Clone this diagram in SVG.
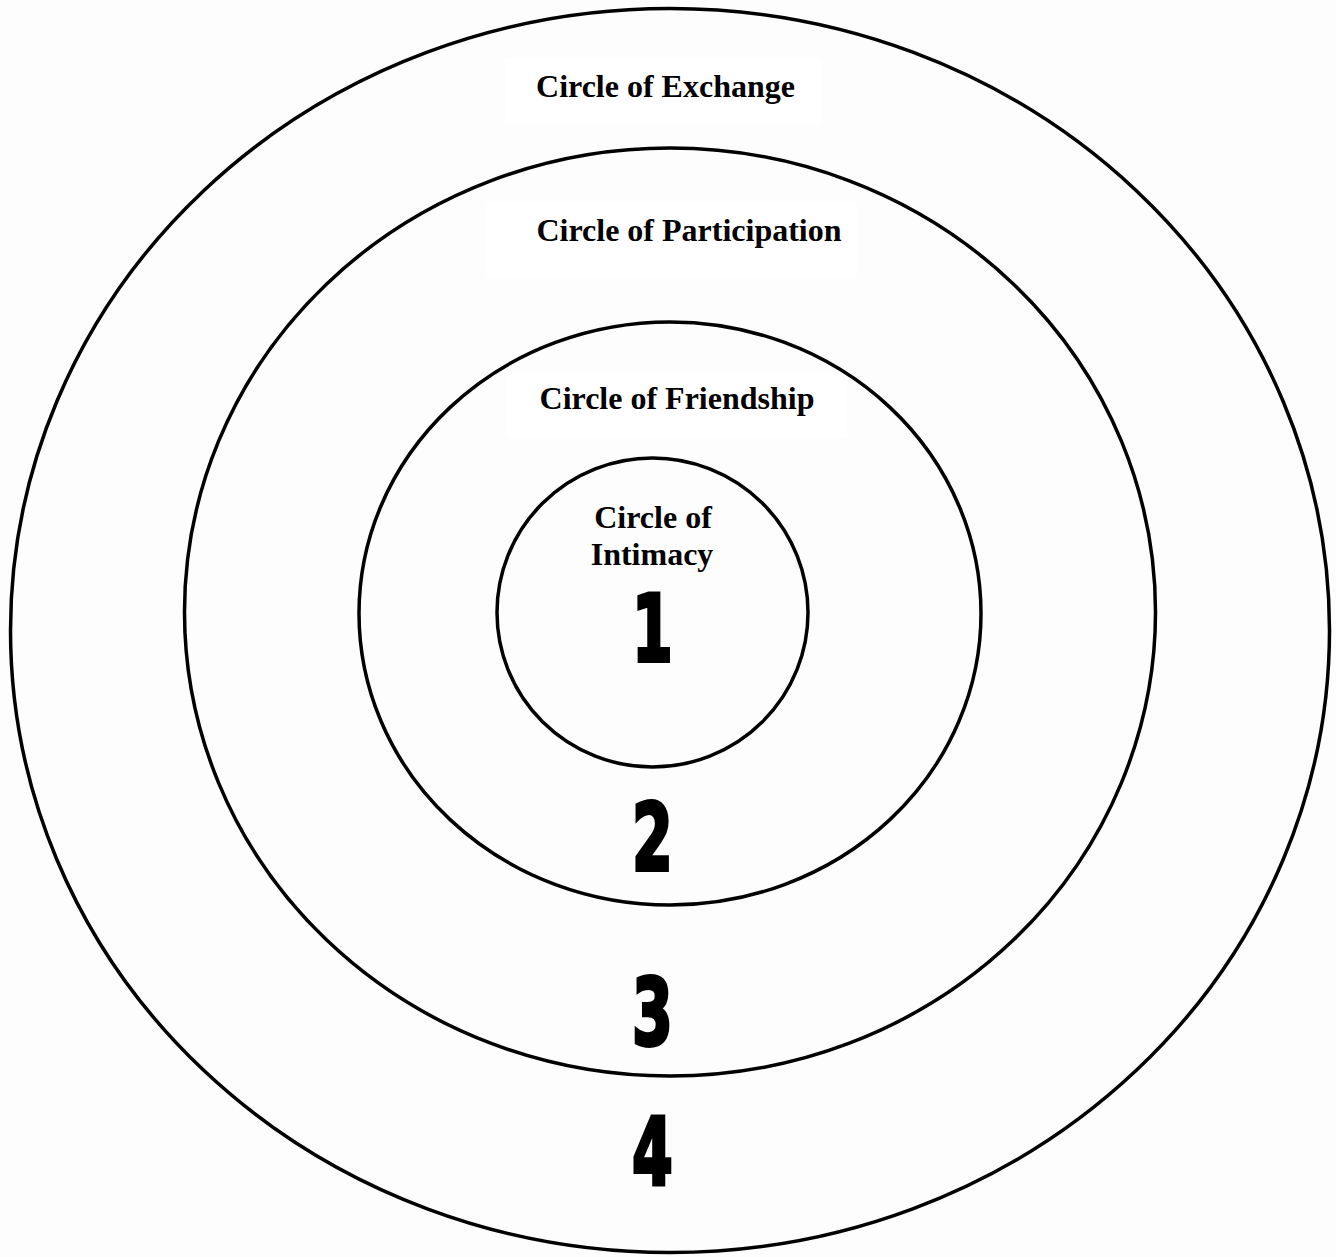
<svg xmlns="http://www.w3.org/2000/svg" width="1336" height="1257" viewBox="0 0 1336 1257">
  <style>
    .ring { fill: none; stroke: #000; stroke-width: 3.5; }
    .label { font-family: "Liberation Serif", "Times New Roman", serif; font-weight: bold; font-size: 32px; fill: #000; text-anchor: middle; }
    .num { font-family: "DejaVu Sans Condensed", "DejaVu Sans", sans-serif; font-weight: bold; font-size: 92px; fill: #000; stroke: #000; stroke-width: 4; stroke-linejoin: miter; text-anchor: middle; }
    .pad { fill: #ffffff; }
  </style>
  <rect width="1336" height="1257" fill="#fdfdfd"/>

  <!-- label backdrops -->
  <rect class="pad" x="505" y="58" width="316" height="66"/>
  <rect class="pad" x="485" y="202" width="372" height="76"/>
  <rect class="pad" x="507" y="372" width="340" height="66"/>

  <g id="circle-exchange">
    <ellipse class="ring" cx="670" cy="630.5" rx="659.5" ry="622"/>
    <text class="label" x="665.5" y="97">Circle of Exchange</text>
    <text class="num" transform="translate(652.5,1184) scale(0.7,1)">4</text>
  </g>

  <g id="circle-participation">
    <ellipse class="ring" cx="670" cy="612" rx="485.5" ry="464"/>
    <text class="label" x="689" y="241">Circle of Participation</text>
    <text class="num" transform="translate(652.5,1045) scale(0.7,1)">3</text>
  </g>

  <g id="circle-friendship">
    <ellipse class="ring" cx="670" cy="613.5" rx="311" ry="291.5"/>
    <text class="label" x="677" y="409">Circle of Friendship</text>
    <text class="num" transform="translate(652.5,870) scale(0.7,1)">2</text>
  </g>

  <g id="circle-intimacy">
    <ellipse class="ring" cx="652.5" cy="612.5" rx="155.5" ry="154.5"/>
    <text class="label" x="653" y="528">Circle of</text>
    <text class="label" x="652" y="565">Intimacy</text>
    <text class="num" transform="translate(652.5,661) scale(0.7,1)">1</text>
  </g>

  <g id="connectors"/>
</svg>
